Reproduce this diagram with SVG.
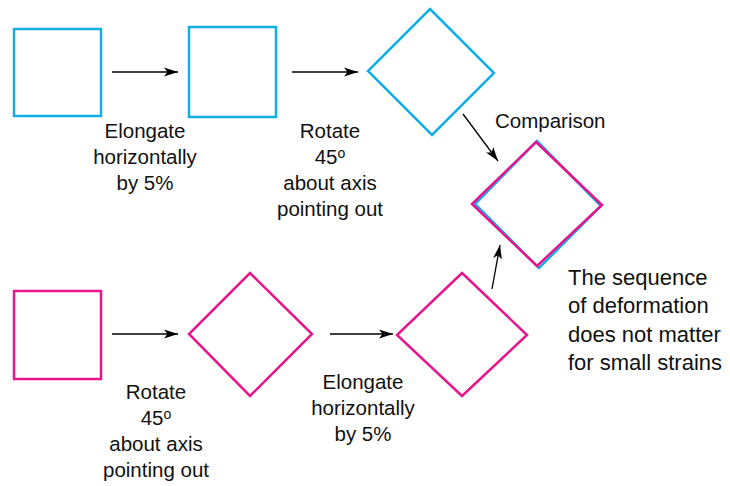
<svg xmlns="http://www.w3.org/2000/svg" width="730" height="486" viewBox="0 0 730 486">
<style>
.c{fill:none;stroke:#12aee8;stroke-width:2.5}
.m{fill:none;stroke:#e8158c;stroke-width:2.5}
.a{fill:none;stroke:#000;stroke-width:1.3;marker-end:url(#ah)}
text{font-family:"Liberation Sans",Arial,sans-serif;font-size:20.5px;fill:#111}
.mid{text-anchor:middle}
.r{font-size:22px}
.sup{font-size:14px}
</style>
<defs>
<marker id="ah" markerUnits="userSpaceOnUse" markerWidth="16" markerHeight="10" refX="14" refY="4.5" orient="auto" viewBox="0 0 16 9">
<path d="M0,0 L14,4.5 L0,9 L3.5,4.5 z" fill="#000"/>
</marker>
</defs>
<rect width="730" height="486" fill="#fff"/>
<g id="top-square-1"><rect class="c" x="14" y="29" width="87" height="87"/></g>
<g id="top-square-2"><rect class="c" x="189" y="27" width="87" height="90"/></g>
<g id="top-diamond"><polygon class="c" points="430,9 494,73 432,135 368,71"/></g>
<g id="comparison">
<polygon class="c" points="537,141 601,206 539,268 475,204"/>
<polygon class="m" points="536,142 602,205 537,266 472,204"/>
</g>
<g id="bottom-square-1"><rect class="m" x="14" y="291" width="87" height="88"/></g>
<g id="bottom-diamond-1"><polygon class="m" points="250,273 312,334 250,396 189,334"/></g>
<g id="bottom-diamond-2"><polygon class="m" points="462,273 527,335 462,396 397,335"/></g>
<g id="connectors">
<line class="a" x1="112" y1="72" x2="178" y2="72"/>
<line class="a" x1="292" y1="72" x2="358" y2="72"/>
<line class="a" x1="463" y1="114" x2="498" y2="161"/>
<line class="a" x1="112" y1="334" x2="178" y2="334"/>
<line class="a" x1="330" y1="334" x2="393" y2="334"/>
<line class="a" x1="492" y1="289" x2="500" y2="245"/>
</g>
<g id="labels">
<text class="mid" x="145" y="138">Elongate</text>
<text class="mid" x="145" y="164">horizontally</text>
<text class="mid" x="145" y="190">by 5%</text>
<text class="mid" x="330" y="138">Rotate</text>
<text class="mid" x="330" y="164">45<tspan class="sup" dy="-6">o</tspan></text>
<text class="mid" x="330" y="190">about axis</text>
<text class="mid" x="330" y="216">pointing out</text>
<text x="495" y="128">Comparison</text>
<text class="mid" x="156" y="399">Rotate</text>
<text class="mid" x="156" y="425">45<tspan class="sup" dy="-6">o</tspan></text>
<text class="mid" x="156" y="451">about axis</text>
<text class="mid" x="156" y="477">pointing out</text>
<text class="mid" x="363" y="389">Elongate</text>
<text class="mid" x="363" y="415">horizontally</text>
<text class="mid" x="363" y="441">by 5%</text>
<text class="r" x="568" y="285">The sequence</text>
<text class="r" x="568" y="313">of deformation</text>
<text class="r" x="568" y="342">does not matter</text>
<text class="r" x="568" y="370">for small strains</text>
</g>
</svg>
